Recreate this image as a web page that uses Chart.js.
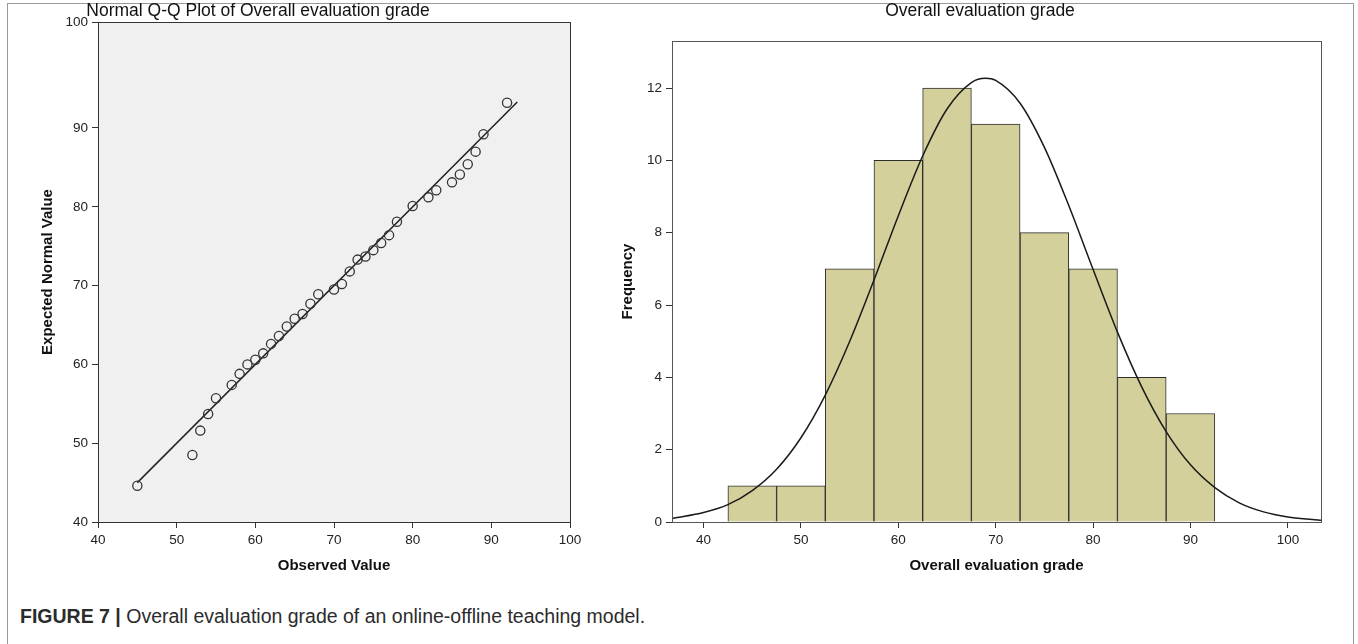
<!DOCTYPE html>
<html><head><meta charset="utf-8">
<script src="https://cdn.jsdelivr.net/npm/chart.js@4.4.0/dist/chart.umd.min.js"></script>
<style>
html,body{margin:0;padding:0;background:#fff;width:1358px;height:644px;overflow:hidden;font-family:'Liberation Sans',Arial,sans-serif;}
#frame{position:absolute;left:7px;top:3px;width:1347px;height:700px;border:1px solid #9a9a9a;box-sizing:border-box;}
canvas{display:block;}
#w1{position:absolute;left:0;top:0;width:604px;height:600px;}
#w2{position:absolute;left:604px;top:0;width:754px;height:600px;}
#caption{position:absolute;left:20px;top:605px;font-size:19.5px;color:#2b2b2b;white-space:nowrap;}
#caption b{font-weight:bold;}
</style></head>
<body>
<div id="frame"></div>
<div id="w1"><canvas id="c1" width="604" height="600"></canvas></div>
<div id="w2"><canvas id="c2" width="754" height="600"></canvas></div>
<div id="caption"><b>FIGURE 7 |</b> Overall evaluation grade of an online-offline teaching model.</div>
<script>
// ---- Q-Q plot data ----
const qqObserved = [45,52,53,54,55,57,58,59,60,61,62,63,64,65,66,67,68,70,71,72,73,74,75,76,77,78,80,82,83,85,86,87,88,89,92];
const qqExpected = [44.6,48.5,51.6,53.7,55.7,57.4,58.8,60.0,60.6,61.4,62.6,63.6,64.8,65.8,66.4,67.7,68.9,69.5,70.2,71.8,73.3,73.7,74.5,75.4,76.4,78.1,80.1,81.2,82.1,83.1,84.1,85.4,87.0,89.2,93.2];
const qqLineX = [45, 93.3];
const qqLineY = [45, 93.3];
const qqXTicks = [40,50,60,70,80,90,100];
const qqYTicks = [40,50,60,70,80,90,100];
const qqYTop = 103.45; // top edge of the frame carries the "100" label

// ---- Histogram data ----
const binMids = [45,50,55,60,65,70,75,80,85,90];
const frequencies = [1,1,7,10,12,11,8,7,4,3];
const histXTicks = [40,50,60,70,80,90,100];
const histYTicks = [0,2,4,6,8,10,12];
const curveX = [36.76,37.5,40,42.5,45,47.5,50,52.5,55,57.5,60,62.5,65,67.5,68.95,70,72.5,75,77.5,80,82.5,85,87.5,90,92.5,95,97.5,100,102.5,103.4];
const curveY = [0.10,0.13,0.26,0.48,0.87,1.46,2.33,3.51,4.99,6.69,8.47,10.12,11.42,12.15,12.27,12.21,11.58,10.36,8.75,6.98,5.25,3.73,2.50,1.58,0.95,0.53,0.28,0.14,0.07,0.05];

const FONT = "'Liberation Sans', Arial, sans-serif";
Chart.defaults.font.family = FONT;
Chart.defaults.color = '#222';

const boxPlugin = {
  id: 'boxPlugin',
  beforeDatasetsDraw(chart, args, opts) {
    const {ctx, chartArea: a} = chart;
    ctx.save();
    ctx.fillStyle = opts.bg || '#fff';
    ctx.fillRect(a.left, a.top, a.right - a.left, a.bottom - a.top);
    ctx.restore();
  },
  afterDraw(chart, args, opts) {
    const {ctx, chartArea: a} = chart;
    ctx.save();
    ctx.strokeStyle = opts.stroke || '#333';
    ctx.lineWidth = 1;
    ctx.strokeRect(Math.round(a.left) + 0.5, Math.round(a.top) + 0.5, Math.round(a.right - a.left), Math.round(a.bottom - a.top));
    if (opts.title) {
      ctx.fillStyle = '#111';
      ctx.font = '17.5px ' + FONT;
      ctx.textAlign = 'center';
      ctx.textBaseline = 'middle';
      ctx.fillText(opts.title, opts.titleX, opts.titleY);
    }
    ctx.restore();
  }
};

function axisCommon() {
  return {
    grid: {display: true, drawOnChartArea: false, drawTicks: true, tickLength: 6, color: '#333', lineWidth: 1, offset: false},
    border: {display: true, color: '#333', width: 1},
    ticks: {font: {size: 13.5}, color: '#222', padding: 4, autoSkip: false, maxRotation: 0}
  };
}

// ---- Left: Normal Q-Q plot ----
const qqX = axisCommon();
const qqY = axisCommon();
qqY.ticks.callback = (v, i) => String(qqYTicks[i]);
new Chart(document.getElementById('c1'), {
  type: 'scatter',
  data: {
    datasets: [
      {
        data: qqObserved.map((v, i) => ({x: v, y: qqExpected[i]})),
        pointStyle: 'circle', pointRadius: 4.6, borderWidth: 1.3,
        borderColor: '#333', backgroundColor: 'rgba(0,0,0,0)', order: 0
      },
      {
        type: 'line',
        data: qqLineX.map((v, i) => ({x: v, y: qqLineY[i]})),
        borderColor: '#222', borderWidth: 1.5, pointRadius: 0, showLine: true, order: 1
      }
    ]
  },
  options: {
    responsive: false, animation: false,
    layout: {padding: {left: 0, right: 34, top: 22, bottom: 0}},
    plugins: {
      legend: {display: false}, tooltip: {enabled: false}, title: {display: false},
      boxPlugin: {bg: '#f0f0f0', stroke: '#333', title: 'Normal Q-Q Plot of Overall evaluation grade', titleX: 258, titleY: 11}
    },
    scales: {
      x: Object.assign(qqX, {
        type: 'linear', min: 40, max: 100,
        afterBuildTicks: s => { s.ticks = qqXTicks.map(v => ({value: v})); },
        afterFit: s => { s.height = 78; },
        title: {display: true, text: 'Observed Value', color: '#111', font: {size: 15, weight: 'bold'}, padding: {top: 0, bottom: 25}}
      }),
      y: Object.assign(qqY, {
        type: 'linear', min: 40, max: qqYTop,
        afterBuildTicks: s => { s.ticks = qqYTicks.map(v => ({value: v === 100 ? qqYTop : v})); },
        afterFit: s => { s.width = 98; },
        title: {display: true, text: 'Expected Normal Value', color: '#111', font: {size: 15, weight: 'bold'}, padding: {top: 39, bottom: 0}}
      })
    }
  },
  plugins: [boxPlugin]
});

// ---- Right: histogram ----
const hX = axisCommon();
const hY = axisCommon();
new Chart(document.getElementById('c2'), {
  type: 'bar',
  data: {
    datasets: [
      {
        type: 'line',
        data: curveX.map((v, i) => ({x: v, y: curveY[i]})),
        borderColor: '#1a1a1a', borderWidth: 1.5, pointRadius: 0,
        cubicInterpolationMode: 'monotone', order: 0
      },
      {
        type: 'bar',
        data: binMids.map((v, i) => ({x: v, y: frequencies[i]})),
        backgroundColor: '#d4d09b', borderColor: '#2e2e2e', borderWidth: 1,
        barPercentage: 1, categoryPercentage: 1, order: 1
      }
    ]
  },
  options: {
    responsive: false, animation: false,
    layout: {padding: {left: 0, right: 37, top: 41, bottom: 0}},
    plugins: {
      legend: {display: false}, tooltip: {enabled: false}, title: {display: false},
      boxPlugin: {bg: '#ffffff', stroke: '#555', title: 'Overall evaluation grade', titleX: 376, titleY: 11}
    },
    scales: {
      x: Object.assign(hX, {
        type: 'linear', min: 36.76, max: 103.4, offset: false,
        afterBuildTicks: s => { s.ticks = histXTicks.map(v => ({value: v})); },
        afterFit: s => { s.height = 78; },
        title: {display: true, text: 'Overall evaluation grade', color: '#111', font: {size: 15, weight: 'bold'}, padding: {top: 0, bottom: 25}}
      }),
      y: Object.assign(hY, {
        type: 'linear', min: 0, max: 13.3,
        afterBuildTicks: s => { s.ticks = histYTicks.map(v => ({value: v})); },
        afterFit: s => { s.width = 68; },
        title: {display: true, text: 'Frequency', color: '#111', font: {size: 15, weight: 'bold'}, padding: {top: 15, bottom: 0}}
      })
    }
  },
  plugins: [boxPlugin]
});
</script>
</body></html>
